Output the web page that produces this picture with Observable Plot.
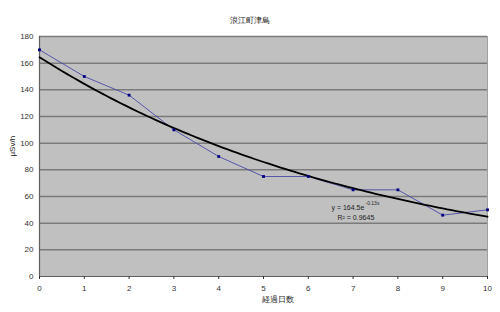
<!DOCTYPE html>
<html><head><meta charset="utf-8">
<script src="https://cdn.jsdelivr.net/npm/d3@7"></script>
<script src="https://cdn.jsdelivr.net/npm/@observablehq/plot@0.6"></script>
<style>body{margin:0;background:#fff;} svg{display:block;}</style>
</head><body><div id="chart"></div>
<script>
const days = [0,1,2,3,4,5,6,7,8,9,10];
const values = [170,150,136,110,90,75,75,65,65,46,50];
const yTicks = [0,20,40,60,80,100,120,140,160,180];
const xTicks = [0,1,2,3,4,5,6,7,8,9,10];
const title = "浪江町津島";
const xLabel = "経過日数";
const yLabel = "μSv/h";
const trendA = 164.5, trendB = -0.13;
const trendText1 = "y = 164.5e";
const trendExp = "-0.13x";
const trendText2 = "R² = 0.9645";

const data = days.map((d,i)=>({x:d,y:values[i]}));
const trend = d3.range(0, 10.001, 0.1).map(x=>({x, y: trendA*Math.exp(trendB*x)}));

const font = "'Liberation Sans', Arial, sans-serif";
const plot = Plot.plot({
  width: 500, height: 312,
  marginLeft: 39, marginRight: 13, marginTop: 36, marginBottom: 36,
  style: {fontFamily: font, fontSize: "8px", color: "#333", background: "#fff"},
  x: {domain: [0,10]},
  y: {domain: [0,180]},
  marks: [
    Plot.frame({fill: "#c0c0c0", stroke: "#a0a0a0"}),
    Plot.ruleY(yTicks.filter(d=>d>0), {stroke: "#7a7a7a", strokeWidth: 1.5}),
    Plot.ruleY([0], {stroke: "#606060", strokeWidth: 1.2}),
    Plot.ruleX([0], {stroke: "#606060", strokeWidth: 1.2}),
    Plot.axisY({ticks: yTicks, tickSize: 0, tickPadding: 6, label: null}),
    Plot.axisX({ticks: xTicks, tickSize: 3, tickPadding: 6, label: null, tickFormat: d=>String(d)}),
    Plot.line(data, {x:"x", y:"y", stroke: "#4a4aa8", strokeWidth: 0.9}),
    Plot.line(trend, {x:"x", y:"y", stroke: "#000", strokeWidth: 1.8, curve: "linear"}),
    Plot.dot(data, {x:"x", y:"y", symbol: "square", r: 1.6, fill: "#000080", stroke: "none"}),
    Plot.text([trendText1], {frameAnchor: "top-left", dx: 292, dy: 169, textAnchor: "start", fill: "#222", fontSize: 7}),
    Plot.text([trendExp], {frameAnchor: "top-left", dx: 326, dy: 165, textAnchor: "start", fill: "#222", fontSize: 5}),
    Plot.text([trendText2], {frameAnchor: "top-left", dx: 298, dy: 179, textAnchor: "start", fill: "#222", fontSize: 7}),
    Plot.text([title], {frameAnchor: "top", dx: -14, dy: -19, fill: "#222", fontSize: 8}),
    Plot.text([xLabel], {frameAnchor: "bottom", dx: 14, dy: 25, fill: "#222", fontSize: 8}),
    Plot.text([yLabel], {frameAnchor: "left", dx: -27, dy: 0, rotate: -90, fill: "#222", fontSize: 8})
  ]
});
document.getElementById("chart").append(plot);
</script></body></html>
